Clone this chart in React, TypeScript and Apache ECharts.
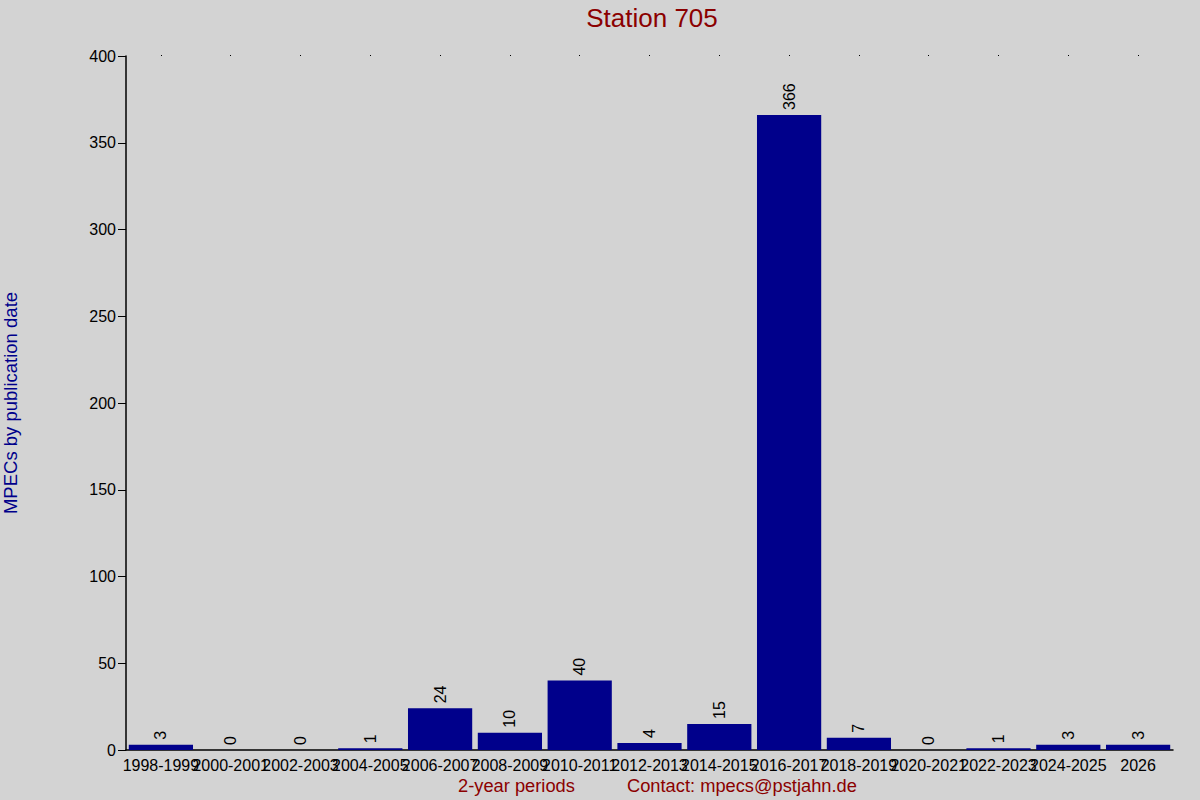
import { useEffect, useRef } from 'react';
import * as echarts from 'echarts';

const periods = [
  '1998-1999', '2000-2001', '2002-2003', '2004-2005', '2006-2007',
  '2008-2009', '2010-2011', '2012-2013', '2014-2015', '2016-2017',
  '2018-2019', '2020-2021', '2022-2023', '2024-2025', '2026',
];
const mpecCounts = [3, 0, 0, 1, 24, 10, 40, 4, 15, 366, 7, 0, 1, 3, 3];

const FONT = '"Liberation Sans", Arial, sans-serif';

export default function App() {
  const chartRef = useRef<HTMLDivElement>(null);

  useEffect(() => {
    document.body.style.margin = '0';
    if (!chartRef.current) return;
    const chart = echarts.init(chartRef.current, null, { renderer: 'svg' });

    chart.setOption({
      animation: false,
      backgroundColor: '#d3d3d3',
      textStyle: { fontFamily: FONT },
      title: {
        text: 'Station 705',
        left: 647,
        textAlign: 'center',
        top: 0,
        textStyle: { color: '#8b0000', fontSize: 26, fontWeight: 'normal', fontFamily: FONT },
      },
      grid: { left: 126, right: 27, top: 56, bottom: 50, containLabel: false, outerBoundsMode: 'none' },
      xAxis: [
        {
          type: 'category',
          data: periods,
          axisLine: { lineStyle: { color: '#000', width: 1.5 } },
          axisTick: { show: false },
          axisLabel: { interval: 0, color: '#000', fontSize: 16, margin: 7, fontFamily: FONT },
        },
        {
          // only the small dots along the top edge
          type: 'category',
          data: periods,
          position: 'top',
          axisLine: { show: false },
          axisTick: { show: true, interval: 0, alignWithLabel: true, length: 1, lineStyle: { color: '#000' } },
          axisLabel: { show: false },
        },
      ],
      yAxis: {
        type: 'value',
        min: 0,
        max: 400,
        interval: 50,
        name: 'MPECs by publication date',
        nameLocation: 'middle',
        nameRotate: 90,
        nameGap: 106,
        nameTextStyle: { color: '#00008b', fontSize: 18.5, fontFamily: FONT },
        axisLine: { show: true, lineStyle: { color: '#000', width: 1.5 } },
        axisTick: { show: true, length: 8, lineStyle: { color: '#000' } },
        axisLabel: { color: '#000', fontSize: 16, margin: 10, fontFamily: FONT },
        splitLine: { show: false },
      },
      graphic: [
        {
          type: 'text',
          left: 458,
          top: 776,
          style: { text: '2-year periods', fill: '#8b0000', fontSize: 18.3, fontFamily: FONT },
        },
        {
          type: 'text',
          left: 627,
          top: 776,
          style: { text: 'Contact: mpecs@pstjahn.de', fill: '#8b0000', fontSize: 18.3, fontFamily: FONT },
        },
      ],
      series: [
        {
          type: 'bar',
          data: mpecCounts,
          barCategoryGap: '8%',
          itemStyle: { color: '#00008b' },
          label: {
            show: true,
            position: 'top',
            distance: 5,
            rotate: 90,
            align: 'left',
            verticalAlign: 'middle',
            color: '#000',
            fontSize: 16,
            fontFamily: FONT,
          },
        },
      ],
    });

    return () => chart.dispose();
  }, []);

  return <div ref={chartRef} style={{ width: 1200, height: 800 }} />;
}
